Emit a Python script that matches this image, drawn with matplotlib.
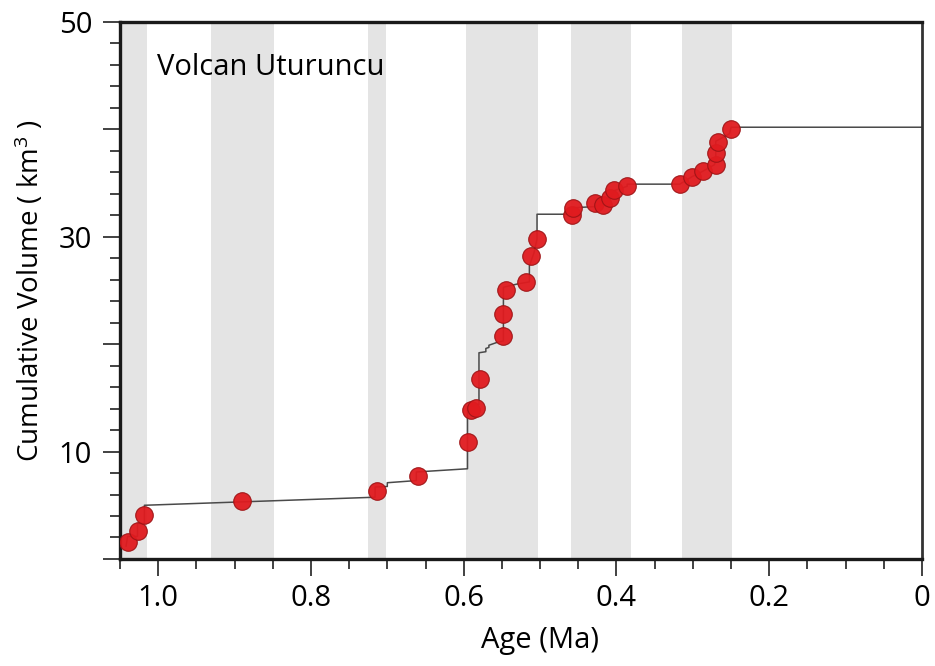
import numpy as np
import matplotlib
matplotlib.use('Agg')
import matplotlib.pyplot as plt
from matplotlib.ticker import FixedLocator, MultipleLocator

plt.rcParams['font.family'] = ['Open Sans', 'DejaVu Sans']
plt.rcParams['mathtext.fontset'] = 'custom'
plt.rcParams['mathtext.rm'] = 'Open Sans'
plt.rcParams['mathtext.it'] = 'Open Sans'

# eruption ages (Ma) and cumulative volumes (km3)
age = [1.040, 1.027, 1.018, 0.890, 0.713, 0.660, 0.594, 0.590, 0.584, 0.579,
       0.548, 0.548, 0.545, 0.518, 0.512, 0.504, 0.458, 0.457, 0.428, 0.417,
       0.408, 0.403, 0.386, 0.317, 0.301, 0.287, 0.270, 0.270, 0.267, 0.250]
volume = [1.6, 2.6, 4.1, 5.4, 6.3, 7.7, 10.9, 13.9, 14.1, 16.8,
          20.8, 22.8, 25.0, 25.8, 28.2, 29.8, 32.0, 32.7, 33.1, 33.0,
          33.6, 34.4, 34.7, 34.9, 35.6, 36.1, 36.7, 37.8, 38.8, 40.0]

# cumulative volume curve
curve_age = [1.042, 1.040, 1.027, 1.027, 1.018, 1.018, 0.716, 0.716, 0.700, 0.700,
             0.662, 0.662, 0.595, 0.595, 0.580, 0.580, 0.571, 0.571, 0.567, 0.567,
             0.555, 0.548, 0.548, 0.530, 0.514, 0.514, 0.508, 0.504, 0.504, 0.458,
             0.458, 0.430, 0.417, 0.408, 0.403, 0.386, 0.386, 0.317, 0.301, 0.287,
             0.272, 0.270, 0.270, 0.262, 0.252, 0.250, 0.0]
curve_vol = [1.2, 2.1, 2.1, 3.3, 3.3, 5.0, 5.75, 6.7, 6.75, 7.1,
             7.3, 8.1, 8.4, 14.2, 14.4, 19.2, 19.3, 19.6, 19.7, 19.9,
             20.2, 20.3, 25.3, 25.6, 25.8, 27.3, 28.5, 29.8, 32.1, 32.1,
             32.7, 32.8, 33.0, 33.5, 34.3, 34.7, 34.9, 34.9, 35.6, 36.1,
             36.7, 37.0, 38.9, 39.2, 39.6, 40.2, 40.2]

# shaded age intervals
bands = [(1.05, 1.014), (0.931, 0.848), (0.725, 0.702),
         (0.597, 0.503), (0.459, 0.381), (0.314, 0.249)]

x_ticks = [1.0, 0.8, 0.6, 0.4, 0.2, 0.0]
x_labels = ['1.0', '0.8', '0.6', '0.4', '0.2', '0']
y_ticks = [0, 10, 20, 30, 40, 50]
y_labels = ['', '10', '', '30', '', '50']

fig = plt.figure(figsize=(9.35, 6.66), dpi=100)
ax = fig.add_axes([0.1283, 0.1607, 0.8578, 0.8063])

for a0, a1 in bands:
    ax.axvspan(a0, a1, color='#e4e4e4', lw=0, zorder=0)

ax.plot(curve_age, curve_vol, color='#4a4a4a', lw=1.1, zorder=2)
ax.scatter(age, volume, s=160, color='#e01b1f', edgecolor='#9e1416',
           linewidth=0.8, alpha=0.95, zorder=3)

ax.set_xlim(1.05, 0)
ax.set_ylim(0, 50)

ax.xaxis.set_major_locator(FixedLocator(x_ticks))
ax.set_xticklabels(x_labels)
ax.xaxis.set_minor_locator(MultipleLocator(0.05))
ax.yaxis.set_major_locator(FixedLocator(y_ticks))
ax.set_yticklabels(y_labels)
ax.yaxis.set_minor_locator(MultipleLocator(2))

ax.tick_params(which='major', length=12, width=1.3, color='#333333',
               labelsize=21, pad=6)
ax.tick_params(which='minor', length=7, width=1.3, color='#333333')
ax.tick_params(axis='y', which='major', pad=8)

for side in ['left', 'bottom', 'top']:
    ax.spines[side].set_linewidth(2.4)
    ax.spines[side].set_color('#1a1a1a')
ax.spines['right'].set_linewidth(2.0)
ax.spines['right'].set_color('#333333')

ax.set_xlabel('Age (Ma)', fontsize=21, labelpad=8)
ax.xaxis.set_label_coords(0.524, -0.125)
ax.set_ylabel('Cumulative Volume ( km$^3$ )', fontsize=20, labelpad=10)
ax.yaxis.set_label_coords(-0.092, 0.5)

ax.text(0.046, 0.901, 'Volcan Uturuncu', transform=ax.transAxes,
        fontsize=21, va='baseline', ha='left')

fig.savefig('out.png', dpi=100)
